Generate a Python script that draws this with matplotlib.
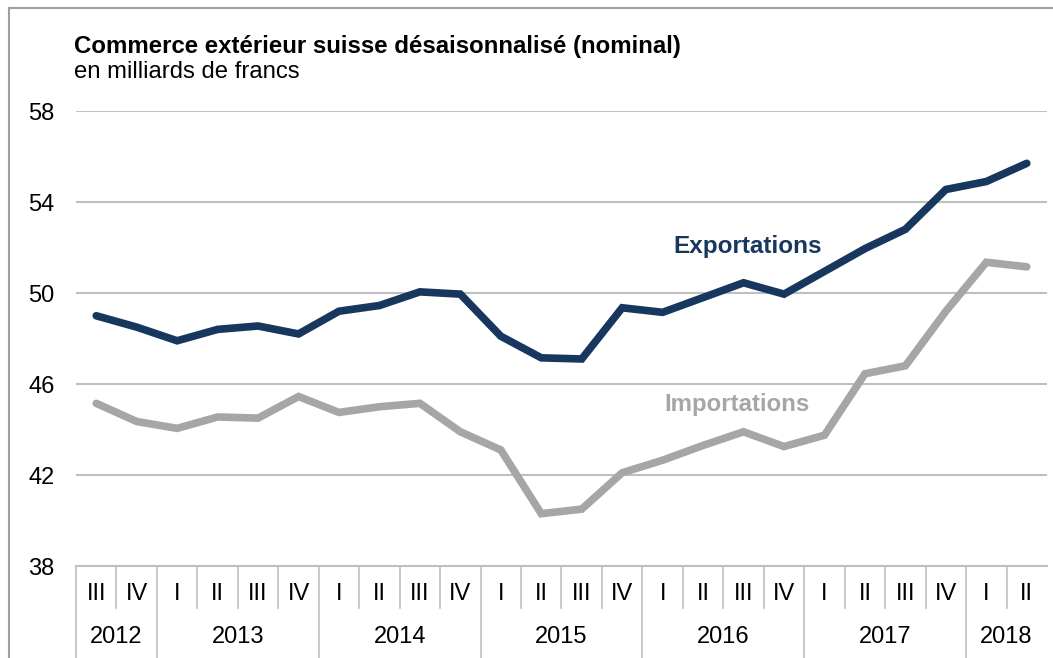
import matplotlib
matplotlib.use("Agg")
import matplotlib.pyplot as plt
from matplotlib.lines import Line2D
from matplotlib.transforms import IdentityTransform
import numpy as np

# Donnees (trimestres 2012 III - 2018 II)
quarters = ["III", "IV",
            "I", "II", "III", "IV",
            "I", "II", "III", "IV",
            "I", "II", "III", "IV",
            "I", "II", "III", "IV",
            "I", "II", "III", "IV",
            "I", "II"]
years = ["2012", "2013", "2014", "2015", "2016", "2017", "2018"]
quarters_per_year = [2, 4, 4, 4, 4, 4, 2]

exports = [49.0, 48.5, 47.9, 48.4, 48.55, 48.2, 49.2, 49.45, 50.05, 49.95,
           48.1, 47.15, 47.1, 49.35, 49.15, 49.8, 50.45, 49.95, 50.95, 51.95,
           52.8, 54.55, 54.9, 55.7]
imports = [45.15, 44.35, 44.05, 44.55, 44.5, 45.45, 44.75, 45.0, 45.15, 43.9,
           43.1, 40.3, 40.5, 42.1, 42.65, 43.3, 43.9, 43.25, 43.75, 46.45,
           46.8, 49.2, 51.35, 51.15]

navy = "#17375E"
grey = "#A6A6A6"
grid_c = "#BFBFBF"

plt.rcParams["font.family"] = ["Liberation Sans", "DejaVu Sans"]

W, H = 1053, 658
fig = plt.figure(figsize=(W / 100, H / 100), dpi=100)
ax = fig.add_axes([76 / W, 1 - 566 / H, (1047 - 76) / W, (566 - 111) / H])

x = np.arange(len(quarters))
ax.plot(x, imports, color=grey, lw=5.5, solid_joinstyle="miter", solid_capstyle="round", zorder=3)
ax.plot(x, exports, color=navy, lw=5.5, solid_joinstyle="miter", solid_capstyle="round", zorder=4)

ax.set_xlim(-0.5, len(quarters) - 0.5)
ax.set_ylim(38, 58)
ax.set_yticks([38, 42, 46, 50, 54, 58])
ax.tick_params(axis="y", length=0, pad=15.5, labelsize=17)
ax.set_xticks([])
for t in [42, 46, 50, 54, 58]:
    ax.axhline(t, color=grid_c, lw=1.5, zorder=1)
for s in ["left", "right", "top"]:
    ax.spines[s].set_visible(False)
ax.spines["bottom"].set_color(grid_c)
ax.spines["bottom"].set_linewidth(1.5)

# axe des categories a deux niveaux
trans = ax.get_xaxis_transform()
px = 1.0 / (566 - 111)  # un pixel en coordonnees axes (vertical)
q_bottom = -(608 - 566) * px
y_bottom = -(658 - 566) * px
year_edges = np.cumsum([0] + quarters_per_year) - 0.5
for i in range(len(quarters)):
    xe = i - 0.5
    full = xe in year_edges
    ax.add_line(Line2D([xe, xe], [0, y_bottom if full else q_bottom], transform=trans,
                       color=grid_c, lw=1.2, clip_on=False))
    ax.text(i, -(594 - 566) * px, quarters[i], transform=trans, ha="center", va="center",
            fontsize=17)
for k, yr in enumerate(years):
    xc = (year_edges[k] + year_edges[k + 1]) / 2
    ax.text(xc, -(637 - 566) * px, yr, transform=trans, ha="center", va="center", fontsize=17)

# etiquettes des series
lab = ax.text(748, H - 247, "Exportations", color=navy, fontsize=17.5, fontweight="bold",
              ha="center", va="center")
lab.set_transform(IdentityTransform())
lab = ax.text(737, H - 405, "Importations", color=grey, fontsize=17.3, fontweight="bold",
              ha="center", va="center")
lab.set_transform(IdentityTransform())

# titre
fig.text(74 / W, 1 - 53 / H, "Commerce extérieur suisse désaisonnalisé (nominal)",
         fontsize=17.3, fontweight="bold", va="baseline", ha="left")
fig.text(74 / W, 1 - 78 / H, "en milliards de francs", fontsize=17.2, va="baseline", ha="left")

# cadre
fig.add_artist(Line2D([9 / W, 9 / W], [0, 1 - 8 / H], color="#A0A0A0", lw=1.5))
fig.add_artist(Line2D([9 / W, 1], [1 - 8 / H, 1 - 8 / H], color="#A0A0A0", lw=1.5))

fig.savefig("out.png", dpi=100)
